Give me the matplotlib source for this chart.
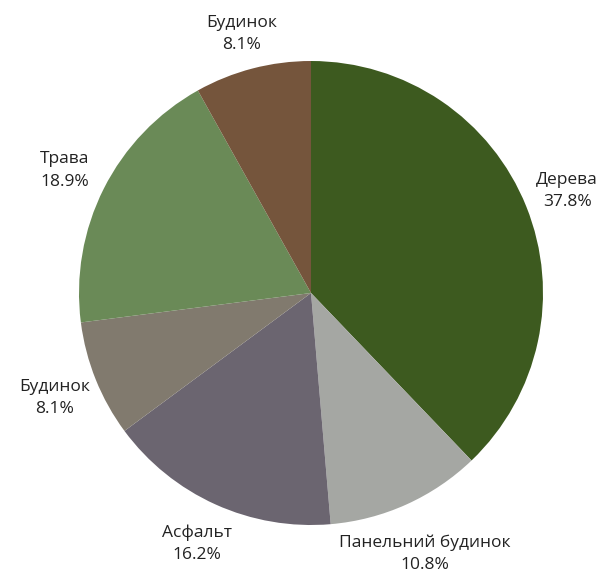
import matplotlib
matplotlib.use("Agg")
import matplotlib.pyplot as plt
import matplotlib.transforms as mtransforms

labels = ["Дерева", "Панельний будинок", "Асфальт", "Будинок", "Трава", "Будинок"]
values = [14, 4, 6, 3, 7, 3]
colors = ["#3d5a1f", "#a5a7a3", "#6b6570", "#817a6e", "#6a8a57", "#75553c"]

plt.rcParams['font.family'] = ['Open Sans', 'DejaVu Sans']

fig = plt.figure(figsize=(6.04, 5.72), dpi=100)
W, H = 604, 572
cx, cy, r = 311, 293, 232
ax = fig.add_axes([(cx - r) / W, (H - cy - r) / H, 2 * r / W, 2 * r / H])

total = sum(values)
wedges, texts = ax.pie(
    values, labels=[f"{l}\n{v / total * 100:.1f}%" for l, v in zip(labels, values)],
    colors=colors, startangle=90, counterclock=False, labeldistance=1.19,
    textprops=dict(fontsize=12.5, color="#222222", ha="center", va="center", linespacing=1.55),
    wedgeprops=dict(edgecolor="none", linewidth=0),
)
# small vertical nudges of the label text (pixels, downward positive)
label_nudge = [1, 9, -1, 2, 2, 8]
for t, dy in zip(texts, label_nudge):
    t.set_horizontalalignment("center")
    t.set_transform(t.get_transform() + mtransforms.Affine2D().translate(0, -dy))
ax.set_xlim(-1, 1)
ax.set_ylim(-1, 1)
ax.set_aspect("equal")
fig.savefig("out.png", dpi=100, facecolor="white")
